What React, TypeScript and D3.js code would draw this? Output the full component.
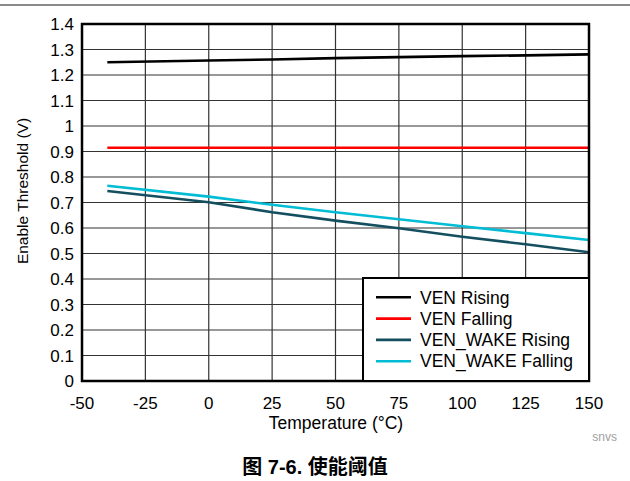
import React from "react";
import * as d3 from "d3";

const temps = [-40, 0, 25, 50, 75, 100, 125, 150];
const venRising = [1.25, 1.257, 1.261, 1.266, 1.27, 1.274, 1.277, 1.281];
const venFalling = [0.915, 0.915, 0.915, 0.915, 0.915, 0.915, 0.915, 0.915];
const wakeRising = [0.745, 0.701, 0.662, 0.629, 0.599, 0.566, 0.536, 0.505];
const wakeFalling = [0.766, 0.723, 0.691, 0.662, 0.634, 0.607, 0.58, 0.553];
const seriesNames = ["VEN Rising", "VEN Falling", "VEN_WAKE Rising", "VEN_WAKE Falling"];
const seriesColors = ["#000000", "#ff0000", "#134f5f", "#00bcd4"];
const xTicks = [-50, -25, 0, 25, 50, 75, 100, 125, 150];
const yTicks = [0, 0.1, 0.2, 0.3, 0.4, 0.5, 0.6, 0.7, 0.8, 0.9, 1, 1.1, 1.2, 1.3, 1.4];

const W = 630, H = 481;
const L = 82, R = 589, T = 24, B = 381;

export default function App() {
  const x = d3.scaleLinear().domain([-50, 150]).range([L, R]);
  const y = d3.scaleLinear().domain([0, 1.4]).range([B, T]);
  const allSeries = [venRising, venFalling, wakeRising, wakeFalling];
  const line = d3
    .line<number>()
    .x((_, i) => x(temps[i]))
    .y((d) => y(d));
  const font = "'Liberation Sans', Arial, sans-serif";
  const fs = 17;
  const legX = 363, legY = 278;
  return (
    <svg width={W} height={H} style={{ position: "absolute", left: 0, top: 0, background: "#fff" }}>
      <rect x={0} y={4} width={W} height={2} fill="#8a8a8a" />
      {xTicks.slice(1, -1).map((t) => (
        <line key={"gx" + t} x1={x(t)} x2={x(t)} y1={T} y2={B} stroke="#333" strokeWidth={1.2} />
      ))}
      {yTicks.slice(1, -1).map((t) => (
        <line key={"gy" + t} x1={L} x2={R} y1={y(t)} y2={y(t)} stroke="#333" strokeWidth={1.2} />
      ))}
      {allSeries.map((s, i) => (
        <path key={"s" + i} d={line(s) || ""} fill="none" stroke={seriesColors[i]} strokeWidth={2.6} />
      ))}
      <rect x={L} y={T} width={R - L} height={B - T} fill="none" stroke="#000" strokeWidth={2.5} />
      {yTicks.map((t) => (
        <text key={"yt" + t} x={74} y={y(t) + 6} textAnchor="end" fontFamily={font} fontSize={fs} fill="#000">
          {d3.format("~g")(t)}
        </text>
      ))}
      {xTicks.map((t) => (
        <text key={"xt" + t} x={x(t)} y={409} textAnchor="middle" fontFamily={font} fontSize={fs} fill="#000">
          {t}
        </text>
      ))}
      <text x={336} y={429} textAnchor="middle" fontFamily={font} fontSize={17.5} fill="#000">
        Temperature (°C)
      </text>
      <text
        transform={`translate(28,${191}) rotate(-90)`}
        textAnchor="middle"
        fontFamily={font}
        fontSize={15.5}
        fill="#000"
      >
        Enable Threshold (V)
      </text>
      <rect x={legX} y={legY} width={R - legX} height={B - legY} fill="#fff" stroke="#000" strokeWidth={2} />
      {seriesNames.map((n, i) => (
        <g key={"lg" + i}>
          <line
            x1={legX + 13}
            x2={legX + 48}
            y1={legY + 19.3 + i * 21.3}
            y2={legY + 19.3 + i * 21.3}
            stroke={seriesColors[i]}
            strokeWidth={2.6}
          />
          <text x={legX + 57} y={legY + 25.5 + i * 21.3} fontFamily={font} fontSize={17.5} fill="#000">
            {n}
          </text>
        </g>
      ))}
      <text x={617} y={441} textAnchor="end" fontFamily={font} fontSize={12} fill="#a0a0a0">
        snvs
      </text>
      <text
        x={315}
        y={474}
        textAnchor="middle"
        fontFamily="'Liberation Sans', 'Noto Sans CJK SC', sans-serif"
        fontWeight="bold"
        fontSize={20}
        fill="#000"
      >
        图 7-6. 使能阈值
      </text>
    </svg>
  );
}
